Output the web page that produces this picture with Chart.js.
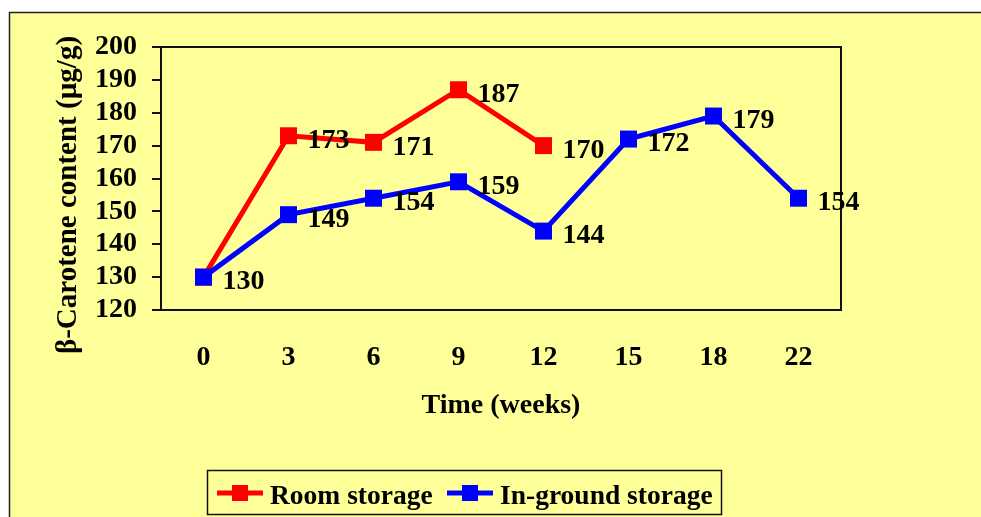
<!DOCTYPE html>
<html>
<head>
<meta charset="utf-8">
<script src="https://cdn.jsdelivr.net/npm/chart.js@4"></script>
<style>
  html, body { margin: 0; padding: 0; background: #fff; }
  #wrap { width: 981px; height: 517px; }
</style>
</head>
<body>
<div id="wrap"><canvas id="myChart" width="981" height="517"></canvas></div>
<script>
// datos
const weeks = ['0', '3', '6', '9', '12', '15', '18', '22'];
const roomStorage = [130, 173, 171, 187, 170];
const inGroundStorage = [130, 149, 154, 159, 144, 172, 179, 154];
const yTicks = [120, 130, 140, 150, 160, 170, 180, 190, 200];
const yTitle = 'β-Carotene content (µg/g)';

const FONT = 'Liberation Serif, Times New Roman, serif';
const BG = '#FFFF99';

// fondo, marco y caja del area del grafico
const framePlugin = {
    id: 'frame',
    beforeDraw(chart) {
        const c = chart.ctx;
        c.save();
        c.fillStyle = '#fff';
        c.fillRect(0, 0, chart.width, chart.height);
        c.fillStyle = BG;
        c.fillRect(9, 12, chart.width, chart.height);
        c.strokeStyle = '#222';
        c.lineWidth = 1.5;
        c.strokeRect(9.5, 12.5, chart.width + 10, chart.height + 10);
        c.restore();
    },
    afterDatasetsDraw(chart) {
        const a = chart.chartArea;
        const c = chart.ctx;
        c.save();
        c.strokeStyle = '#111';
        c.lineWidth = 2;
        c.strokeRect(a.left, a.top, a.right - a.left, a.bottom - a.top);
        // titulo del eje Y, un poco mas abajo que el centro del eje
        c.translate(69, 195);
        c.rotate(-Math.PI / 2);
        c.font = 'bold 29px ' + FONT;
        c.fillStyle = '#000';
        c.textAlign = 'center';
        c.textBaseline = 'middle';
        c.fillText(yTitle, 0, 0);
        c.restore();
    }
};

// etiquetas de valores
const labelsPlugin = {
    id: 'valueLabels',
    afterDatasetsDraw(chart) {
        const c = chart.ctx;
        c.save();
        c.font = 'bold 28px ' + FONT;
        c.fillStyle = '#000';
        c.textAlign = 'left';
        c.textBaseline = 'middle';
        chart.data.datasets.forEach((ds, i) => {
            const meta = chart.getDatasetMeta(i);
            meta.data.forEach((pt, j) => {
                // el 130 inicial es comun, solo se escribe una vez
                if (i === 0 && j === 0) return;
                c.fillText(String(ds.data[j]), pt.x + 19, pt.y + 5);
            });
        });
        c.restore();
    }
};

// leyenda con borde
const legendPlugin = {
    id: 'boxLegend',
    afterDraw(chart) {
        const c = chart.ctx;
        c.save();
        c.strokeStyle = '#111';
        c.lineWidth = 1.5;
        c.strokeRect(207.5, 470.5, 514, 44);
        const cy = 493;
        const xs = [217, 447];
        c.font = 'bold 27.5px ' + FONT;
        c.textBaseline = 'middle';
        c.fillStyle = '#000';
        chart.data.datasets.forEach((ds, i) => {
            const x = xs[i];
            c.strokeStyle = ds.borderColor;
            c.lineWidth = 5;
            c.beginPath();
            c.moveTo(x, cy);
            c.lineTo(x + 46, cy);
            c.stroke();
            c.fillStyle = ds.backgroundColor;
            c.fillRect(x + 15, cy - 8, 16, 16);
            c.fillStyle = '#000';
            c.fillText(ds.label, x + 53, cy + 4);
        });
        c.restore();
    }
};

const ctx = document.getElementById('myChart');

new Chart(ctx, {
    type: 'line',
    data: {
        labels: weeks,
        datasets: [{
            label: 'Room storage',
            data: roomStorage,
            borderColor: '#FF0000',
            backgroundColor: '#FF0000',
            borderWidth: 5,
            pointStyle: 'rect',
            pointRadius: 12,
            pointBorderWidth: 0,
            tension: 0,
            order: 1
        }, {
            label: 'In-ground storage',
            data: inGroundStorage,
            borderColor: '#0000FF',
            backgroundColor: '#0000FF',
            borderWidth: 5,
            pointStyle: 'rect',
            pointRadius: 12,
            pointBorderWidth: 0,
            tension: 0,
            order: 0
        }]
    },
    options: {
        responsive: false,
        animation: false,
        layout: {
            padding: { left: 40, right: 140, top: 47, bottom: 90 }
        },
        plugins: {
            legend: { display: false },
            tooltip: { enabled: false }
        },
        scales: {
            x: {
                offset: true,
                grid: { display: false },
                border: { display: false },
                ticks: {
                    color: '#000',
                    padding: 23,
                    maxRotation: 0,
                    font: { family: FONT, size: 28, weight: 'bold' }
                },
                title: {
                    display: true,
                    text: 'Time (weeks)',
                    color: '#000',
                    padding: { top: 0, bottom: 4 },
                    font: { family: FONT, size: 28, weight: 'bold' }
                },
                afterFit(scale) { scale.height = 117; }
            },
            y: {
                min: yTicks[0],
                max: yTicks[yTicks.length - 1],
                afterBuildTicks(scale) {
                    scale.ticks = yTicks.map(v => ({ value: v }));
                },
                grid: {
                    drawOnChartArea: false,
                    drawTicks: true,
                    tickLength: 9,
                    color: '#111',
                    lineWidth: 2
                },
                border: { display: false },
                ticks: {
                    color: '#000',
                    padding: 15,
                    autoSkip: false,
                    font: { family: FONT, size: 28, weight: 'bold' }
                },
                title: { display: false },
                afterFit(scale) { scale.width = 121; }
            }
        }
    },
    plugins: [framePlugin, labelsPlugin, legendPlugin]
});
</script>
</body>
</html>
